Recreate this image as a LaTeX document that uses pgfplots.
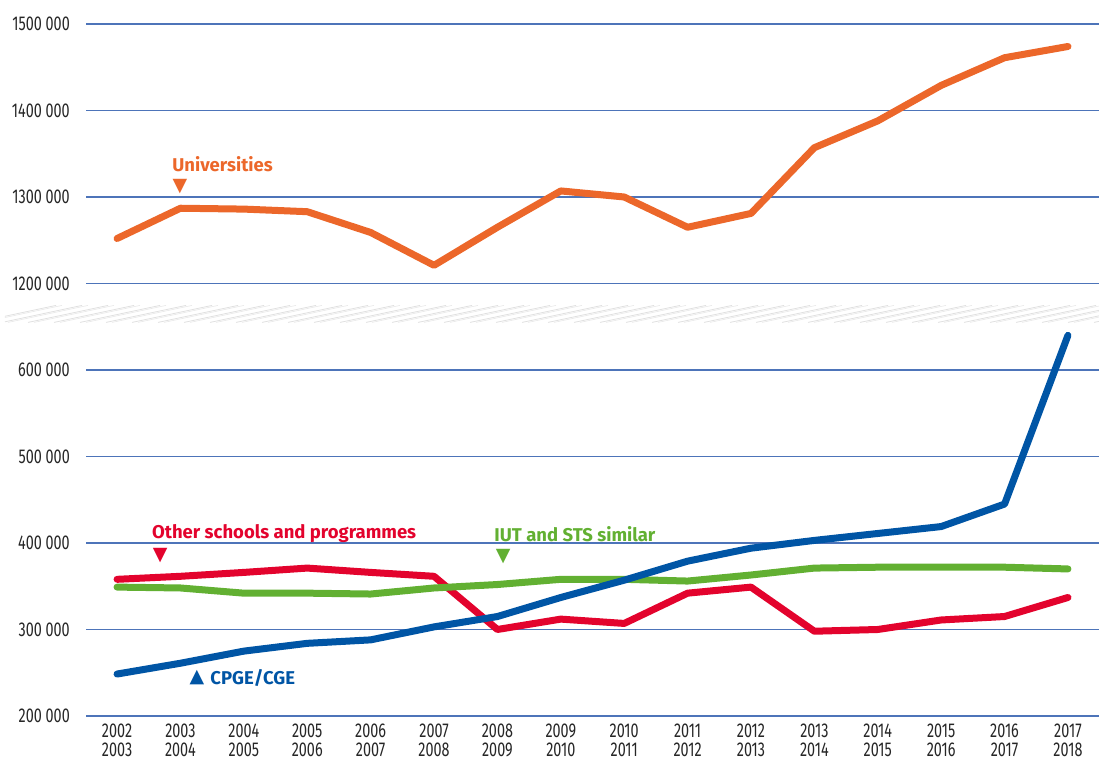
\documentclass[border=0pt]{standalone}
\usepackage{pgfplots}
\pgfplotsset{compat=1.18}
\usepackage{fontspec}
\usetikzlibrary{calc}
\setmainfont{Fira Sans}
\newfontfamily\condfont{Fira Sans}[FakeStretch=0.72]
\newfontfamily\symfont{DejaVu Sans}
\definecolor{gridblue}{HTML}{4D74B9}
\definecolor{univ}{HTML}{EC672A}
\definecolor{cpge}{HTML}{0055A5}
\definecolor{other}{HTML}{E3032D}
\definecolor{iut}{HTML}{62B032}

% Universities are drawn on the upper part of a broken axis: 1 200 000 sits where 700 000 would be
\pgfplotstableread{
x y
0 1252000
1 1287000
2 1286000
3 1283000
4 1259000
5 1221000
6 1265000
7 1307000
8 1300000
9 1265000
10 1281000
11 1357000
12 1388000
13 1429000
14 1461000
15 1474000
}\univ
\pgfplotstableread{
x y
0 248500
1 261000
2 275000
3 284000
4 288000
5 303000
6 315000
7 337000
8 357000
9 379000
10 394000
11 403000
12 411000
13 419000
14 445000
15 640000
}\cpge
\pgfplotstableread{
x y
0 358000
1 361500
2 366000
3 371000
4 366000
5 361500
6 300000
7 312000
8 307000
9 342000
10 349000
11 298000
12 300000
13 311000
14 315000
15 337000
}\other
\pgfplotstableread{
x y
0 349000
1 348000
2 342000
3 342000
4 341000
5 348000
6 352000
7 358000
8 358000
9 356000
10 363000
11 371000
12 372000
13 372000
14 372000
15 370000
}\iut

\begin{document}
\begin{tikzpicture}
\begin{axis}[
  scale only axis, width=1013pt, height=692pt,
  xmin=-0.49, xmax=15.49, ymin=200000, ymax=1000000,
  scaled y ticks=false,
  axis line style={draw=none}, major tick length=0pt,
  ytick={200000,300000,400000,500000,600000,700000,800000,900000,1000000},
  yticklabels={200 000,300 000,400 000,500 000,600 000,1200 000,1300 000,1400 000,1500 000},
  yticklabel style={font=\condfont\fontsize{20}{20}\selectfont, color=black!85, anchor=east, inner sep=0pt, xshift=-16pt},
  xtick={0,...,15},
  xticklabels={2002\\2003,2003\\2004,2004\\2005,2005\\2006,2006\\2007,2007\\2008,2008\\2009,2009\\2010,2010\\2011,2011\\2012,2012\\2013,2013\\2014,2014\\2015,2015\\2016,2016\\2017,2017\\2018},
  xticklabel style={font=\condfont\fontsize{20}{18.5}\selectfont, color=black!85, align=center, anchor=north, inner sep=0pt, yshift=-8pt},
  ymajorgrids, grid style={gridblue, line width=1.3pt},
  clip=false,
]
\addplot[other, line width=7pt, line join=round, line cap=round] table[x=x,y=y] {\other};
\addplot[iut, line width=7pt, line join=round, line cap=round] table[x=x,y=y] {\iut};
\addplot[cpge, line width=7pt, line join=round, line cap=round] table[x=x,y=y] {\cpge};
\addplot[univ, line width=7pt, line join=round, line cap=round, y filter/.expression={y-500000}] table[x=x,y=y] {\univ};

\node[univ, font=\bfseries\fontsize{18.5}{18.5}\selectfont, anchor=west, inner sep=0pt] at (axis cs:0.87,837400) {Universities};
\node[univ, font=\symfont\fontsize{19}{19}\selectfont, inner sep=0pt] at (axis cs:0.99,812000) {▼};
\node[other, font=\bfseries\fontsize{18.5}{18.5}\selectfont, anchor=west, inner sep=0pt] at (axis cs:0.55,411300) {Other schools and programmes};
\node[other, font=\symfont\fontsize{19}{19}\selectfont, inner sep=0pt] at (axis cs:0.68,386000) {▼};
\node[iut, font=\bfseries\fontsize{18.5}{18.5}\selectfont, anchor=west, inner sep=0pt] at (axis cs:5.95,410000) {IUT and STS similar};
\node[iut, font=\symfont\fontsize{19}{19}\selectfont, inner sep=0pt] at (axis cs:6.09,384800) {▼};
\node[cpge, font=\symfont\fontsize{19}{19}\selectfont, inner sep=0pt] at (axis cs:1.26,243900) {▲};
\node[cpge, font=\bfseries\fontsize{18.5}{18.5}\selectfont, anchor=west, inner sep=0pt] at (axis cs:1.47,243900) {CPGE/CGE};

\coordinate (bl) at (axis cs:-0.49,655000);
\coordinate (tr) at (axis cs:15.49,675000);
\end{axis}
% axis break band
\begin{scope}
\clip ($(bl)+(-81pt,0)$) rectangle (tr);
\foreach \i in {0,...,45} {
  \draw[black!12, line width=0.8pt] ($(bl)+(\i*26pt-110pt,0pt)$) -- ++(80pt,17pt);
  \draw[black!9, line width=0.6pt] ($(bl)+(\i*26pt-104pt,0pt)$) -- ++(80pt,17pt);
}
\end{scope}
\pgfresetboundingbox
\path ($(current axis.south west)+(-86pt,-44pt)$) rectangle ($(current axis.north east)+(0,24pt)$);
\end{tikzpicture}
\end{document}
